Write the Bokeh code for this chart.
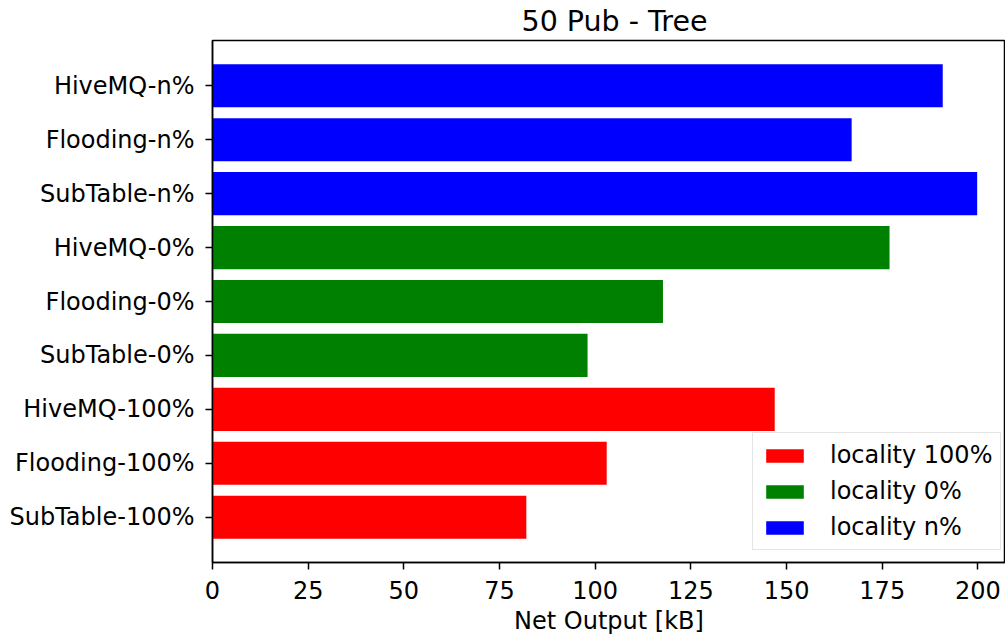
from bokeh.plotting import figure
from bokeh.models import ColumnDataSource, Range1d, FixedTicker, Legend, LegendItem
from bokeh.embed import file_html
from bokeh.resources import INLINE

# Data (bottom to top)
categories = ["SubTable-100%", "Flooding-100%", "HiveMQ-100%",
              "SubTable-0%", "Flooding-0%", "HiveMQ-0%",
              "SubTable-n%", "Flooding-n%", "HiveMQ-n%"]
net_output = [82.0, 103.0, 146.9, 98.0, 117.7, 176.9, 199.8, 167.0, 190.8]
groups = ["locality 100%"] * 3 + ["locality 0%"] * 3 + ["locality n%"] * 3
group_names = ["locality 100%", "locality 0%", "locality n%"]
group_colors = ["#ff0000", "#008000", "#0000ff"]
x_ticks = [0, 25, 50, 75, 100, 125, 150, 175, 200]

FONT = "DejaVu Sans"
FS = "24px"

p = figure(width=1005, height=637, output_backend="svg", toolbar_location=None,
           x_range=Range1d(0, 207.2), y_range=Range1d(-0.84, 8.84),
           min_border_left=212, min_border_right=0, min_border_top=40,
           min_border_bottom=74, title="50 Pub - Tree")

p.title.text_font = FONT
p.title.text_font_size = "28.5px"
p.title.text_font_style = "normal"
p.title.align = "left"
p.title.text_color = "#000000"
p.title.offset = 309
p.title.standoff = 5

renderers = []
for gname, gcol in zip(group_names, group_colors):
    idx = [i for i, g in enumerate(groups) if g == gname]
    src = ColumnDataSource(dict(y=idx, x=[net_output[i] for i in idx]))
    r = p.hbar(y="y", right="x", left=0, height=0.8, source=src,
               fill_color=gcol, line_color=None)
    renderers.append(r)

legend = Legend(items=[LegendItem(label=n, renderers=[r]) for n, r in zip(group_names, renderers)],
                location=(540, 12), margin=0, padding=8, spacing=8,
                glyph_width=47, glyph_height=17, label_standoff=22, label_height=26,
                label_text_font=FONT, label_text_font_size=FS,
                label_text_color="#000000",
                border_line_color="#cccccc", border_line_width=1.5,
                background_fill_color="white", background_fill_alpha=0.8)
p.add_layout(legend, "center")

p.xgrid.visible = False
p.ygrid.visible = False

p.outline_line_color = "black"
p.outline_line_width = 1.5
p.outline_line_alpha = 1

p.xaxis.ticker = FixedTicker(ticks=x_ticks)
p.yaxis.ticker = FixedTicker(ticks=list(range(len(categories))))
p.yaxis.major_label_overrides = {i: c for i, c in enumerate(categories)}
p.xaxis.axis_label = "Net Output [kB]"

for ax in (p.xaxis, p.yaxis):
    ax.axis_line_color = "black"
    ax.axis_line_width = 1.5
    ax.major_tick_line_color = "black"
    ax.major_tick_line_width = 1.5
    ax.major_tick_out = 7
    ax.major_tick_in = 0
    ax.minor_tick_line_color = None
    ax.major_label_text_font = FONT
    ax.major_label_text_font_size = FS
    ax.major_label_text_color = "#000000"
    ax.axis_label_text_font = FONT
    ax.axis_label_text_font_size = FS
    ax.axis_label_text_font_style = "normal"
    ax.axis_label_text_color = "#000000"

p.xaxis.major_label_standoff = 11
p.xaxis.axis_label_standoff = 5
p.yaxis.major_label_standoff = 11

open("out.html", "w").write(file_html(p, INLINE))
